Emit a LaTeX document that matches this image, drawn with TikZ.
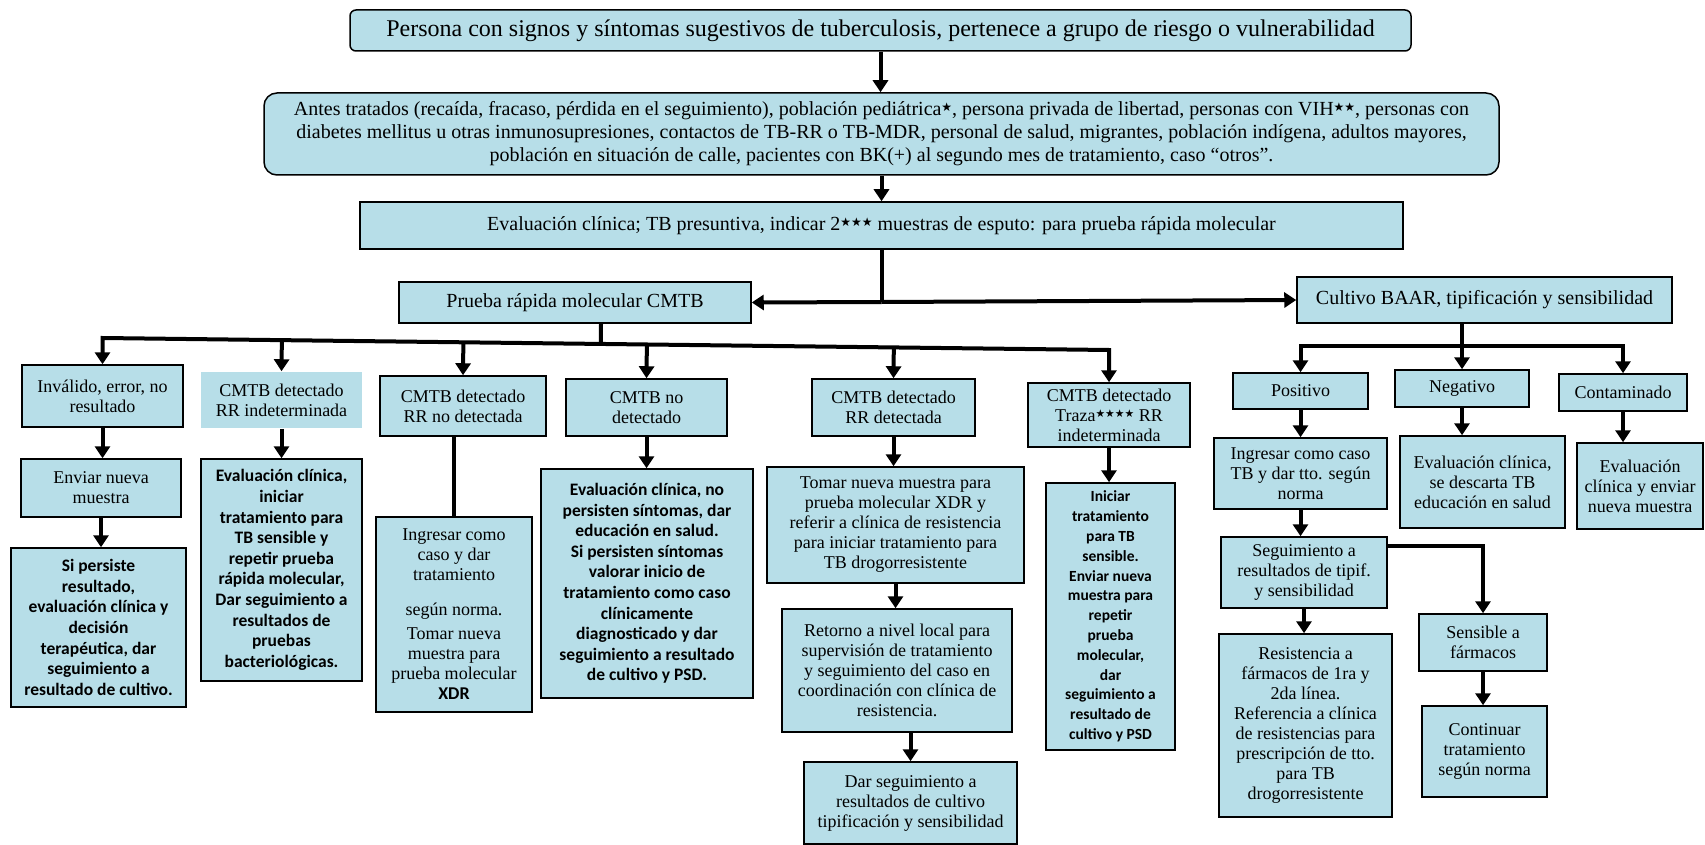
\documentclass[tikz,border=0pt]{standalone}
\usepackage{fontspec}
\usepackage{graphicx}
\setmainfont{Liberation Serif}
\newfontfamily\calibrifont{Carlito}
\newfontfamily\starfont{DejaVu Sans}
\usetikzlibrary{arrows.meta,calc}
\definecolor{boxfill}{HTML}{B7DEE8}
\newcommand{\stars}[1]{\raisebox{.45ex}{\scalebox{.6}{\starfont #1}}}
% \mkbox[style]{name}{left}{top}{right}{bottom}{text}
\newcommand{\mkbox}[7][]{%
  \node[box,#1,minimum width={(#5-#3)*1pt},minimum height={(#6-#4)*1pt}]
    (#2) at ({(#3+#5)/2},{(#4+#6)/2}) {#7};}
\tikzset{
  box/.style={draw=black, line width=1.5pt, fill=boxfill, align=center,
    inner sep=2pt, font=\fontsize{18}{20}\selectfont},
  noframe/.style={draw=none},
  sansbold/.style={font=\calibrifont\bfseries\fontsize{17.5}{20.6}\selectfont},
  wire/.style={draw=black, line width=4pt},
  arr/.style={wire, -{Triangle[width=15pt,length=12pt]}},
  arr2/.style={wire, {Triangle[width=15pt,length=12pt]}-{Triangle[width=15pt,length=12pt]}},
}
\begin{document}
\begin{tikzpicture}[x=1pt,y=-1pt]
\useasboundingbox (0,0) rectangle (1705,845);
\fill[white] (0,0) rectangle (1705,845);

% upper chain
\mkbox[rounded corners=6pt, font=\fontsize{24}{25}\selectfont]{title}{350}{10}{1411}{51}
  {Persona con signos y síntomas sugestivos de tuberculosis, pertenece a grupo de riesgo o vulnerabilidad}
\mkbox[rounded corners=13pt, font=\fontsize{20}{23}\selectfont]{groups}{264}{93}{1499}{175}
  {Antes tratados (recaída, fracaso, pérdida en el seguimiento), población pediátrica\stars{★}, persona privada de libertad, personas con VIH\stars{★★},  personas con\\
   diabetes mellitus u otras inmunosupresiones, contactos de TB-RR o TB-MDR, personal de salud, migrantes, población indígena, adultos mayores,\\
   población en situación de calle, pacientes con BK(+) al segundo mes de tratamiento, caso “otros”.}
\mkbox[font=\fontsize{20}{23}\selectfont]{evalc}{360}{202}{1403}{249}
  {Evaluación clínica; TB presuntiva, indicar 2\stars{★★★} muestras de esputo: para prueba rápida molecular}
\mkbox[font=\fontsize{20}{23}\selectfont]{prueba}{399}{282}{751}{323}{Prueba rápida molecular CMTB}
\mkbox[font=\fontsize{20}{23}\selectfont]{cultivo}{1297}{277}{1672}{323}{Cultivo BAAR, tipificación y sensibilidad}

% molecular test branches
\mkbox{inv}{22}{365}{183}{427}{Inválido, error, no\\resultado}
\mkbox{enviar}{21}{459}{181}{517}{Enviar nueva\\muestra}
\mkbox[sansbold]{persiste}{11}{548}{186}{707}
  {Si persiste\\resultado,\\evaluación clínica y\\decisión\\terapéutica,  dar\\seguimiento a\\resultado de cultivo.}

\mkbox[noframe]{rrind}{201}{372}{362}{428}{CMTB detectado\\RR indeterminada}
\mkbox[sansbold]{evalsens}{201}{459}{362}{681}
  {Evaluación clínica,\\iniciar\\tratamiento para\\TB sensible y\\repetir prueba\\rápida molecular,\\Dar seguimiento a\\resultados de\\pruebas\\bacteriológicas.}

\mkbox{nodet}{380}{376}{546}{436}{CMTB detectado\\RR no detectada}
\mkbox{ingr}{376}{517}{532}{712}
  {Ingresar como\\caso y dar\\tratamiento\\[15pt]según norma.\\[4pt]Tomar nueva\\muestra para\\prueba molecular\\{\calibrifont\bfseries XDR}}

\mkbox{notdet}{566}{379}{727}{436}{CMTB no\\detectado}
\mkbox[sansbold]{evalnot}{541}{469}{753}{698}
  {Evaluación clínica, no\\persisten síntomas, dar\\educación en salud.\\Si persisten síntomas\\valorar inicio de\\tratamiento como caso\\clínicamente\\diagnosticado y dar\\seguimiento a resultado\\de cultivo y PSD.}

\mkbox{rrdet}{812}{379}{975}{436}{CMTB detectado\\RR detectada}
\mkbox{tomar}{767}{467}{1024}{583}
  {Tomar nueva muestra para\\prueba molecular XDR y\\referir a clínica de resistencia\\para iniciar tratamiento para\\TB drogorresistente}
\mkbox{retorno}{782}{609}{1012}{732}
  {Retorno a nivel local para\\supervisión de tratamiento\\y seguimiento del caso en\\coordinación con clínica de\\resistencia.}
\mkbox{darseg}{804}{762}{1017}{844}
  {Dar seguimiento a\\resultados de cultivo\\tipificación y sensibilidad}

\mkbox{traza}{1028}{383}{1190}{447}{CMTB detectado\\Traza\stars{★★★★} RR\\indeterminada}
\mkbox[sansbold, font=\calibrifont\bfseries\fontsize{15.5}{19.8}\selectfont]{iniciar}{1046}{483}{1175}{750}
  {Iniciar\\tratamiento\\para TB\\sensible.\\Enviar nueva\\muestra para\\repetir\\prueba\\molecular,\\dar\\seguimiento a\\resultado de\\cultivo y PSD}

% culture branches
\mkbox{pos}{1233}{373}{1368}{409}{Positivo}
\mkbox{neg}{1395}{370}{1529}{407}{Negativo}
\mkbox{cont}{1559}{374}{1687}{411}{Contaminado}
\mkbox{ingtb}{1214}{438}{1387}{509}{Ingresar como caso\\TB y dar tto.  según\\norma}
\mkbox{desc}{1400}{436}{1565}{528}{Evaluación clínica,\\se descarta TB\\educación en salud}
\mkbox{reenv}{1577}{443}{1703}{529}{Evaluación\\clínica y enviar\\nueva muestra}
\mkbox{seg}{1221}{537}{1387}{608}{Seguimiento a\\resultados de tipif.\\y sensibilidad}
\mkbox{resist}{1219}{634}{1392}{817}
  {Resistencia a\\fármacos de 1ra y\\2da línea.\\Referencia a clínica\\de resistencias para\\prescripción de tto.\\para TB\\drogorresistente}
\mkbox{sens}{1419}{614}{1547}{671}{Sensible a\\fármacos}
\mkbox{contin}{1422}{706}{1547}{797}{Continuar\\tratamiento\\según norma}

% connectors: upper chain
\draw[arr] (title.south) -- (title.south |- groups.north);
\draw[arr] (groups.south) -- (groups.south |- evalc.north);
\coordinate (split) at (evalc.south |- 0,302);
\draw[wire] (evalc.south) -- (split);
\draw[arr] (split) -- (prueba.east);
\draw[arr] (split) -- (cultivo.west);

% connectors: molecular test bus
\coordinate (busL) at (inv.north |- 0,338);
\coordinate (busR) at (traza.north |- 0,350);
\draw[arr2] (inv.north) -- (busL) -- (busR) -- (traza.north);
\coordinate (pstem) at ([xshift=26pt]prueba.south);
\draw[wire] (pstem) -- ($(busL)!(pstem)!(busR)$);
\foreach \b in {rrind,nodet,notdet,rrdet}
  \draw[arr] ($(busL)!(\b.north)!(busR)$) -- (\b.north);

\draw[arr] (inv.south) -- (inv.south |- enviar.north);
\draw[arr] (enviar.south) -- (enviar.south |- persiste.north);
\draw[arr] (rrind.south) -- (rrind.south |- evalsens.north);
\draw[wire] (ingr.north |- nodet.south) -- (ingr.north);
\draw[arr] (notdet.south) -- (notdet.south |- evalnot.north);
\draw[arr] (rrdet.south) -- (rrdet.south |- tomar.north);
\draw[arr] (tomar.south) -- (tomar.south |- retorno.north);
\draw[arr] (darseg.north |- retorno.south) -- (darseg.north);
\draw[arr] (traza.south) -- (traza.south |- iniciar.north);

% connectors: culture
\draw[arr] (cultivo.south -| neg.north) -- (neg.north);
\coordinate (cbar) at (neg.north |- 0,346);
\draw[arr2] (pos.north) -- (pos.north |- cbar) -- (cont.north |- cbar) -- (cont.north);
\draw[arr] (pos.south) -- (pos.south |- ingtb.north);
\draw[arr] (ingtb.south) -- (ingtb.south |- seg.north);
\draw[arr] (seg.south) -- (seg.south |- resist.north);
\draw[arr] ([yshift=-10pt]seg.north east) -| (sens.north);
\draw[arr] (sens.south) -- (sens.south |- contin.north);
\draw[arr] (neg.south) -- (neg.south |- desc.north);
\draw[arr] (cont.south) -- (cont.south |- reenv.north);
\end{tikzpicture}
\end{document}
